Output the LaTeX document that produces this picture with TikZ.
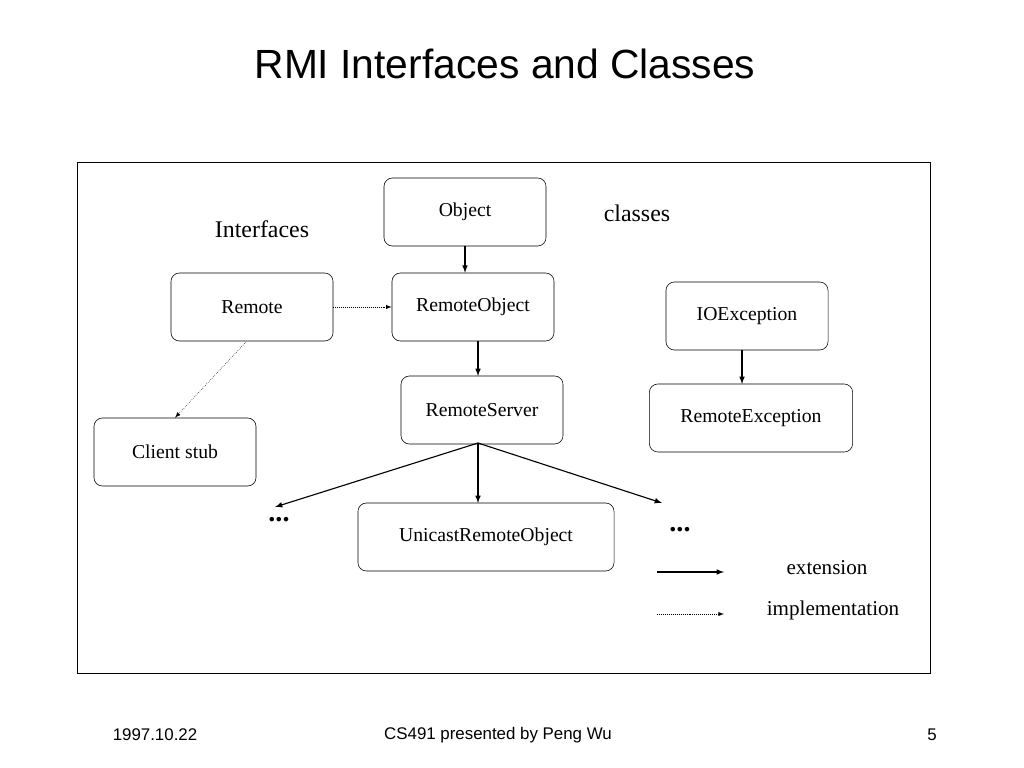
\documentclass[tikz,border=0pt]{standalone}
\usepackage{fontspec}
\setmainfont{Liberation Serif}
\newfontfamily\sans{Liberation Sans}
\usetikzlibrary{positioning,arrows}
\begin{document}
\begin{tikzpicture}[x=0.025cm,y=-0.025cm]
		\tikzstyle{box}=[draw,rounded corners=6pt,minimum width=4.05cm,minimum height=1.7cm,font=\fontsize{14}{16}\selectfont]
		\tikzstyle{ext}=[-latex,thick]
		\tikzstyle{imp}=[-latex,densely dotted]
		\useasboundingbox (0,0) rectangle (1024,768);
		\node [font=\sans\fontsize{29}{32}\selectfont] (title) at (505,64) {RMI Interfaces and Classes};
		\draw (77,162) rectangle (930,673);
		\node [box] (obj) at (465,212) {Object};
		\node [box] (rem) at (252,307) {Remote};
		\node [box] (robj) at (473,307) {RemoteObject};
		\node [box] (ioe) at (747,316) {IOException};
		\node [box] (rsrv) at (482,410) {RemoteServer};
		\node [box,minimum width=5.08cm] (rex) at (751,418) {RemoteException};
		\node [box] (stub) at (175,452) {Client stub};
		\node [box,minimum width=6.4cm] (uro) at (486,537) {UnicastRemoteObject};
		\node [font=\fontsize{17}{20}\selectfont] (intf) at (262,229) {Interfaces};
		\node [font=\fontsize{17}{20}\selectfont] (cls) at (637,213) {classes};
		\node [font=\bfseries\fontsize{20}{20}\selectfont] (dl) at (279,520) {...};
		\node [font=\bfseries\fontsize{20}{20}\selectfont] (dr) at (680,530) {...};
		\coordinate (dla) at (275,507);
		\coordinate (dra) at (662,503);
		\draw [ext] (obj.south) -- (obj.south |- robj.north);
		\draw [imp] (rem.east) ++(0,0) -- (robj.west);
		\draw [imp] (246,342) -- (stub.north);
		\draw [ext] (478,341) -- (478,376);
		\draw [ext] (742,350) -- (742,384);
		\draw [ext] (478,443) -- (dla);
		\draw [ext] (478,443) -- (478,503);
		\draw [ext] (478,443) -- (dra);
		% legend
		\coordinate (l1) at (657,572);
		\coordinate (l1e) at (724,572);
		\coordinate (l2) at (657,614);
		\coordinate (l2e) at (724,614);
		\draw [ext] (l1) -- (l1e);
		\draw [imp] (l2) -- (l2e);
		\node [font=\fontsize{15}{18}\selectfont] (lext) at (827,568) {extension};
		\node [font=\fontsize{15}{18}\selectfont] (limp) at (833,610) {implementation};
		% footer
		\node [font=\sans\fontsize{12}{14}\selectfont] (date) at (155,735) {1997.10.22};
		\node [font=\sans\fontsize{12}{14}\selectfont] (pres) at (498,735) {CS491 presented by Peng Wu};
		\node [font=\sans\fontsize{12}{14}\selectfont] (page) at (932,735) {5};
\end{tikzpicture}
\end{document}
